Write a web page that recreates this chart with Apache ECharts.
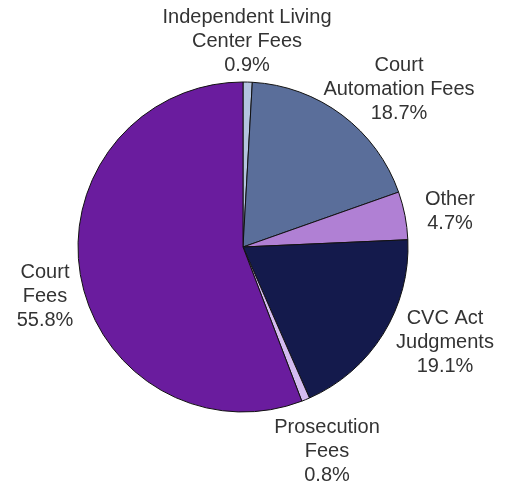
<!DOCTYPE html>
<html lang="en">
<head>
    <meta charset="UTF-8">
    <title>Fees pie</title>
    <style>
        html, body { margin: 0; padding: 0; background: #fff; }
    </style>
</head>
<body>
<div id="main" style="width: 505px;height:485px;"></div>
<script type="text/javascript" src="https://cdn.jsdelivr.net/npm/echarts@6/dist/echarts.min.js"></script>
<script type="text/javascript">

    // slices, clockwise from the top
    var names = ['Independent Living\nCenter Fees', 'Court\nAutomation Fees', 'Other', 'CVC Act\nJudgments', 'Prosecution\nFees', 'Court\nFees'];
    var values = [0.9, 18.7, 4.7, 19.1, 0.8, 55.8];
    var colors = ['#b4c4e0', '#5a6e9a', '#b080d4', '#141a4c', '#d4bcf0', '#6a1c9e'];

    // label block: centre x, top y
    var labelPos = [[247, 5], [399, 53], [450, 187], [445, 306], [327, 415], [45, 260]];

    var myChart = echarts.init(document.getElementById('main'));

    var data = [];
    for (var i = 0; i < names.length; i++) {
        data.push({name: names[i], value: values[i], itemStyle: {color: colors[i]}});
    }

    myChart.setOption({
        animation: false,
        series: [
            {
                type: 'pie',
                center: [243, 247],
                radius: 165,
                startAngle: 90,
                clockwise: true,
                avoidLabelOverlap: false,
                itemStyle: {borderColor: '#111', borderWidth: 1},
                label: {
                    show: true,
                    position: 'outside',
                    formatter: function (p) {
                        return p.name + '\n' + p.value.toFixed(1) + '%';
                    },
                    fontFamily: 'Liberation Sans, Arial, sans-serif',
                    fontSize: 20,
                    lineHeight: 24,
                    color: '#333',
                    align: 'center'
                },
                labelLine: {show: false},
                labelLayout: function (p) {
                    var pos = labelPos[p.dataIndex];
                    return {x: pos[0], y: pos[1], align: 'center', verticalAlign: 'top'};
                },
                emphasis: {disabled: true},
                data: data
            }
        ]
    });
</script>
</body>
</html>
